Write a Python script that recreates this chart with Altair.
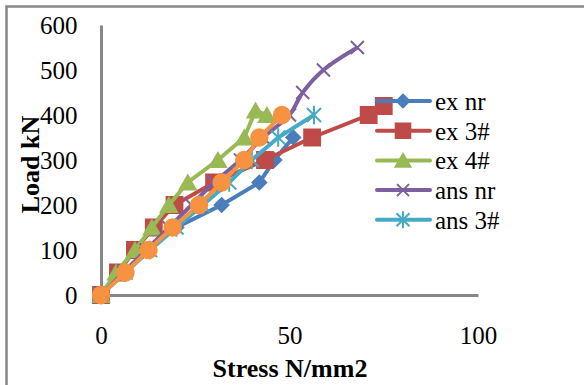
import altair as alt
import pandas as pd

# Series names, in drawing order (the last one has no legend entry)
series_names = ["ex nr", "ex 3#", "ex 4#", "ans nr", "ans 3#", "ans 4#"]

# Stress (N/mm2) and load (kN) readings for each series
ex_nr_stress = [0, 6, 12, 20, 32, 42, 46, 51]
ex_nr_load = [0, 50, 100, 150, 200, 250, 300, 350]

ex_3_stress = [0, 4.5, 9, 14, 19.5, 30, 43.5, 56, 71, 75]
ex_3_load = [0, 50, 100, 150, 200, 250, 300, 350, 400, 420]

ex_4_stress = [0, 4, 9, 13.5, 18, 23, 31, 38, 41, 44]
ex_4_load = [0, 50, 100, 150, 200, 250, 300, 350, 410, 400]

ans_nr_stress = [0, 6, 12, 18, 24, 30, 37, 43, 50, 53.5, 59, 68]
ans_nr_load = [0, 50, 100, 150, 200, 250, 300, 350, 400, 450, 500, 550]

ans_3_stress = [0, 6.5, 13, 20, 27, 34, 40, 47, 56.5]
ans_3_load = [0, 50, 100, 150, 200, 250, 300, 350, 400]

ans_4_stress = [0, 6.5, 12.6, 19, 26, 32, 38, 42, 48]
ans_4_load = [0, 50, 100, 150, 200, 250, 300, 350, 400]

x_ticks = [0, 50, 100]
y_ticks = [0, 100, 200, 300, 400, 500, 600]

stress = [ex_nr_stress, ex_3_stress, ex_4_stress, ans_nr_stress, ans_3_stress, ans_4_stress]
load = [ex_nr_load, ex_3_load, ex_4_load, ans_nr_load, ans_3_load, ans_4_load]

# Styling per series
colors = ["#4A7EBB", "#BE4B48", "#98B954", "#7D60A0", "#46AAC5", "#F69240"]
X_PATH = "M-1,-1L1,1M-1,1L1,-1"
STAR_PATH = "M-1,-1L1,1M-1,1L1,-1M0,-1.3L0,1.3"
shapes = ["diamond", "square", "triangle-up", X_PATH, STAR_PATH, "circle"]
sizes = [190, 250, 260, 170, 200, 270]
interp = ["linear", "linear", "linear", "catmull-rom", "linear", "linear"]

FONT = "Liberation Serif"
GRAY = "#878787"

x_scale = alt.Scale(domain=[0, 100], nice=False)
y_scale = alt.Scale(domain=[0, 600], nice=False)

x_axis = alt.Axis(
    values=x_ticks, grid=False, ticks=False, tickSize=0, labelPadding=28,
    labelFlush=False, labelFont=FONT, labelFontSize=25, labelColor="black",
    domainColor=GRAY, domainWidth=3,
    title="Stress N/mm2", titleFont=FONT, titleFontSize=26, titleFontWeight="bold",
    titleColor="black", titleBaseline="alphabetic", titleY=81,
)
y_axis = alt.Axis(
    values=y_ticks, grid=False, ticks=False, tickSize=0, labelPadding=24,
    labelFlush=False, labelFont=FONT, labelFontSize=25, labelColor="black",
    domainColor=GRAY, domainWidth=3,
    title="Load kN", titleFont=FONT, titleFontSize=26, titleFontWeight="bold",
    titleColor="black", titleAngle=270, titleBaseline="alphabetic",
    titleAlign="center", titleX=-63, titleY=139,
)

# Outer chart frame
frame = alt.Chart(pd.DataFrame({"k": [0]})).mark_rect(
    filled=False, stroke=GRAY, strokeWidth=2.5
).encode(
    x=alt.value(-94.5), x2=alt.value(520), y=alt.value(-18.5), y2=alt.value(400)
)

layers = []
for i, name in enumerate(series_names):
    df = pd.DataFrame({"stress": stress[i], "load": load[i], "series": name})
    base = alt.Chart(df).encode(
        x=alt.X("stress:Q", scale=x_scale, axis=x_axis),
        y=alt.Y("load:Q", scale=y_scale, axis=y_axis),
    )
    line = base.mark_line(color=colors[i], strokeWidth=4, interpolate=interp[i])
    pts = base.mark_point(
        shape=shapes[i], filled=True, fill=colors[i], stroke=colors[i],
        strokeWidth=2, size=sizes[i], opacity=1,
    )
    layers += [line, pts]

# Legend (first five series), placed over the right side of the plot
legend_df = pd.DataFrame({"series": series_names[:5], "idx": list(range(5))})
for i, name in enumerate(series_names[:5]):
    ldf = legend_df[legend_df["series"] == name]
    lb = alt.Chart(ldf).transform_calculate(ly="76 + 29.7 * datum.idx")
    yenc = alt.Y("ly:Q", scale=None)
    layers.append(lb.mark_rule(color=colors[i], strokeWidth=4, strokeCap="round").encode(
        x=alt.value(276), x2=alt.value(329), y=yenc))
    layers.append(lb.mark_point(
        shape=shapes[i], filled=True, fill=colors[i], stroke=colors[i],
        strokeWidth=2, size=sizes[i] * 0.85, opacity=1).encode(x=alt.value(302), y=yenc))
    layers.append(lb.mark_text(
        align="left", baseline="middle", font=FONT, fontSize=25, color="black", dy=1
    ).encode(x=alt.value(334), y=yenc, text="series:N"))

layers.append(frame)

chart = alt.layer(*layers).properties(
    width=377, height=270,
    autosize=alt.AutoSizeParams(type="none"),
    padding={"left": 101, "top": 25, "right": 106, "bottom": 90},
    background="white",
).configure_view(stroke=None)

chart.save("out.html", embed_options={"renderer": "svg", "actions": False})
